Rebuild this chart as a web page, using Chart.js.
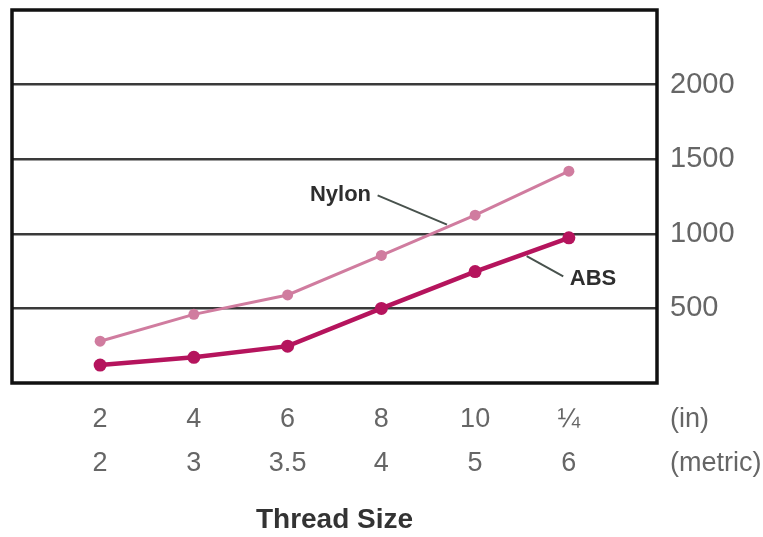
<!DOCTYPE html>
<html>
<head>
<meta charset="utf-8">
<script src="https://cdn.jsdelivr.net/npm/chart.js@4.4.1/dist/chart.umd.min.js"></script>
<style>
html,body{margin:0;padding:0;background:#fff;}
#wrap{width:763px;height:537px;position:relative;}
</style>
</head>
<body>
<div id="wrap"><canvas id="c"></canvas></div>
<script>
// ---- data ----
const inchLabels   = ['2', '4', '6', '8', '10', '¼'];
const metricLabels = ['2', '3', '3.5', '4', '5', '6'];
const unitLabels   = ['(in)', '(metric)'];
const nylonValues  = [280, 460, 590, 855, 1125, 1420];
const absValues    = [120, 172, 247, 500, 747, 973];
const yTickValues  = [500, 1000, 1500, 2000];
const xAxisTitle   = 'Thread Size';
const seriesNames  = ['Nylon', 'ABS'];

const FONT = "'Liberation Sans', Arial, Helvetica, sans-serif";
const TICK_SIZE = 27, TICK_LH = 44, TICK_PAD = 15;

const toPoints = vals => vals.map((v, i) => ({x: i, y: v}));

// annotation geometry in data units
const annotations = [
  {text: seriesNames[0], tx: 2.89, ty: 1262, align: 'right', line: [[2.96, 1258], [3.7, 1062]]},
  {text: seriesNames[1], tx: 5.01, ty: 700, align: 'left', line: [[4.55, 850], [4.94, 715]]}
];

const framePlugin = {
  id: 'frame',
  beforeDatasetsDraw(chart) {
    const {ctx, chartArea: a} = chart;
    ctx.save();
    ctx.strokeStyle = '#111';
    ctx.lineWidth = 3.5;
    ctx.strokeRect(a.left, a.top, a.right - a.left, a.bottom - a.top);
    ctx.restore();
  },
  afterDraw(chart) {
    const {ctx} = chart;
    const xs = chart.scales.x, ys = chart.scales.y;
    ctx.save();
    annotations.forEach(an => {
      ctx.strokeStyle = '#48524d';
      ctx.lineWidth = 2;
      ctx.beginPath();
      ctx.moveTo(xs.getPixelForValue(an.line[0][0]), ys.getPixelForValue(an.line[0][1]));
      ctx.lineTo(xs.getPixelForValue(an.line[1][0]), ys.getPixelForValue(an.line[1][1]));
      ctx.stroke();
      ctx.fillStyle = '#2e2e2e';
      ctx.font = 'bold 22px ' + FONT;
      ctx.textAlign = an.align;
      ctx.textBaseline = 'middle';
      ctx.fillText(an.text, xs.getPixelForValue(an.tx), ys.getPixelForValue(an.ty));
    });
    ctx.fillStyle = '#666';
    ctx.font = TICK_SIZE + 'px ' + FONT;
    ctx.textAlign = 'left';
    ctx.textBaseline = 'middle';
    const y1 = xs.top + TICK_PAD + TICK_LH / 2;
    unitLabels.forEach((t, i) => {
      ctx.fillText(t, chart.chartArea.right + 13, y1 + i * TICK_LH);
    });
    ctx.restore();
  }
};

new Chart(document.getElementById('c'), {
  type: 'line',
  data: {
    datasets: [
      {
        label: seriesNames[0],
        data: toPoints(nylonValues),
        borderColor: '#d07c9f',
        backgroundColor: '#d07c9f',
        borderWidth: 3,
        pointRadius: 5.5,
        pointBorderWidth: 0,
        tension: 0
      },
      {
        label: seriesNames[1],
        data: toPoints(absValues),
        borderColor: '#b5145d',
        backgroundColor: '#b5145d',
        borderWidth: 4.5,
        pointRadius: 6.5,
        pointBorderWidth: 0,
        tension: 0
      }
    ]
  },
  options: {
    responsive: true,
    maintainAspectRatio: false,
    animation: false,
    events: [],
    layout: {padding: {top: 10, left: 12, right: 0, bottom: 0}},
    plugins: {legend: {display: false}, tooltip: {enabled: false}},
    scales: {
      x: {
        type: 'linear',
        position: 'bottom',
        min: -0.94,
        max: 5.94,
        afterBuildTicks(scale) { scale.ticks = inchLabels.map((_, i) => ({value: i})); },
        afterFit(scale) { scale.height = 154; scale.paddingLeft = 0; scale.paddingRight = 0; },
        grid: {display: false, drawTicks: false},
        border: {display: false},
        ticks: {
          padding: TICK_PAD,
          autoSkip: false,
          maxRotation: 0,
          color: '#666',
          font: {family: FONT, size: TICK_SIZE, lineHeight: TICK_LH / TICK_SIZE},
          callback: (v) => {
            const i = Math.round(v);
            return [inchLabels[i], metricLabels[i]];
          }
        },
        title: {
          display: true,
          text: xAxisTitle,
          color: '#333',
          font: {family: FONT, size: 28, weight: 'bold'},
          padding: {top: 22, bottom: 0}
        }
      },
      y: {
        type: 'linear',
        position: 'right',
        min: 0,
        max: 2500,
        afterBuildTicks(scale) { scale.ticks = [0].concat(yTickValues, [2500]).map(v => ({value: v})); },
        afterFit(scale) { scale.width = 106; scale.paddingTop = 0; scale.paddingBottom = 0; },
        grid: {color: '#3a3a3a', lineWidth: 2.5, drawTicks: false},
        border: {display: false},
        ticks: {
          padding: 13,
          color: '#666',
          font: {family: FONT, size: 29},
          callback: v => yTickValues.includes(v) ? String(v) : null
        }
      }
    }
  },
  plugins: [framePlugin]
});
</script>
</body>
</html>
